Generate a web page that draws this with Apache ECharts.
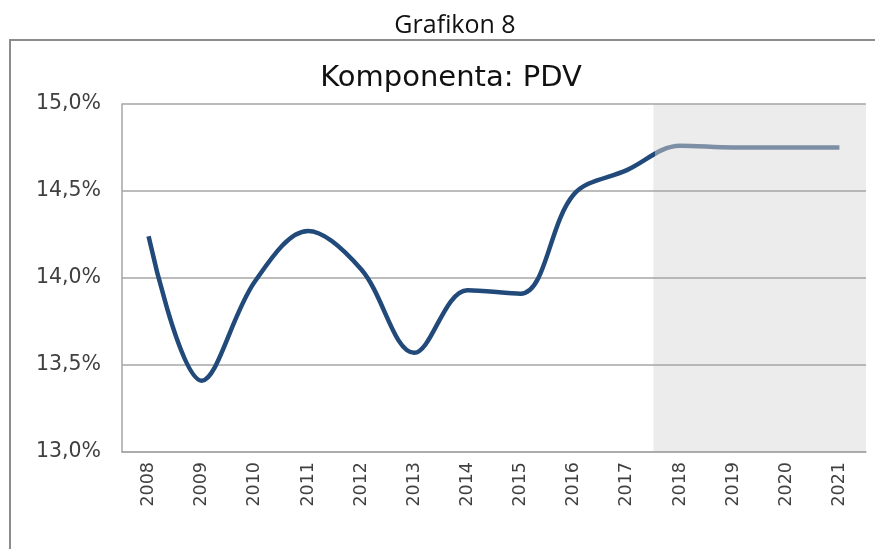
<!DOCTYPE html>
<html>
<head>
<meta charset="utf-8">
<script src="https://cdn.jsdelivr.net/npm/echarts@6/dist/echarts.min.js"></script>
<style>
  html, body { margin: 0; padding: 0; background: #fff; }
  #chart { width: 875px; height: 549px; }
</style>
</head>
<body>
<div id="chart"></div>
<script>
// Data
const years = ['2008', '2009', '2010', '2011', '2012', '2013', '2014',
               '2015', '2016', '2017', '2018', '2019', '2020', '2021'];
const pdvShare = [14.24, 13.41, 13.98, 14.27, 14.05, 13.57, 13.93,
                  13.91, 14.48, 14.62, 14.76, 14.75, 14.75, 14.75];
// forecast band, in category units (2018 .. end of 2021)
const forecastBand = [10, 14];

const chart = echarts.init(document.getElementById('chart'));

const axisGray = '#a6a6a6';
const labelColor = '#404040';
const darkBlue = '#214a7b';
const fadedBlue = '#7d8fa5';

// where the colour switches along the line: halfway between 2017 and 2018
const split = (forecastBand[0] - 0.5) / (years.length - 1);

chart.setOption({
    animation: false,
    title: [
        {
            text: 'Grafikon 8',
            left: 450,
            textAlign: 'center',
            top: 8,
            textStyle: { fontFamily: 'Open Sans', fontSize: 25, fontWeight: 'normal', color: '#111' }
        },
        {
            text: 'Komponenta: PDV',
            left: 446,
            textAlign: 'center',
            top: 59,
            textStyle: { fontFamily: 'DejaVu Sans', fontSize: 29, fontWeight: 'normal', color: '#111' }
        }
    ],
    graphic: [{
        type: 'rect',
        shape: { x: 10, y: 40, width: 880, height: 530 },
        style: { fill: 'none', stroke: '#8c8c8c', lineWidth: 2 },
        silent: true
    }],
    grid: { left: 122, right: 9, top: 104, bottom: 97 },
    xAxis: [
        {
            type: 'category',
            data: years,
            boundaryGap: true,
            axisLine: { lineStyle: { color: axisGray, width: 1.5 } },
            axisTick: { show: false },
            axisLabel: {
                rotate: 90,
                margin: 10,
                fontFamily: 'DejaVu Sans',
                fontSize: 17.5,
                color: labelColor
            }
        },
        {
            type: 'value',
            min: 0,
            max: 14,
            show: false
        }
    ],
    yAxis: {
        type: 'value',
        min: 13,
        max: 15,
        interval: 0.5,
        axisLine: { show: true, lineStyle: { color: axisGray, width: 1.5 } },
        axisTick: { show: false },
        splitLine: { lineStyle: { color: axisGray, width: 1.5 } },
        axisLabel: {
            margin: 21,
            fontFamily: 'DejaVu Sans',
            fontSize: 20.5,
            color: labelColor,
            formatter: v => v.toFixed(1).replace('.', ',') + '%'
        }
    },
    series: [
        {
            type: 'line',
            data: pdvShare,
            smooth: 0.35,
            symbol: 'none',
            lineStyle: {
                width: 4.5,
                color: new echarts.graphic.LinearGradient(0, 0, 1, 0, [
                    { offset: 0, color: darkBlue },
                    { offset: split, color: darkBlue },
                    { offset: split, color: fadedBlue },
                    { offset: 1, color: fadedBlue }
                ])
            },
            z: 3
        },
        {
            type: 'line',
            xAxisIndex: 1,
            data: [],
            silent: true,
            z: -1,
            markArea: {
                silent: true,
                z: -1,
                itemStyle: { color: '#ececec' },
                data: [[{ xAxis: forecastBand[0] }, { xAxis: forecastBand[1] }]]
            }
        }
    ]
});
</script>
</body>
</html>
